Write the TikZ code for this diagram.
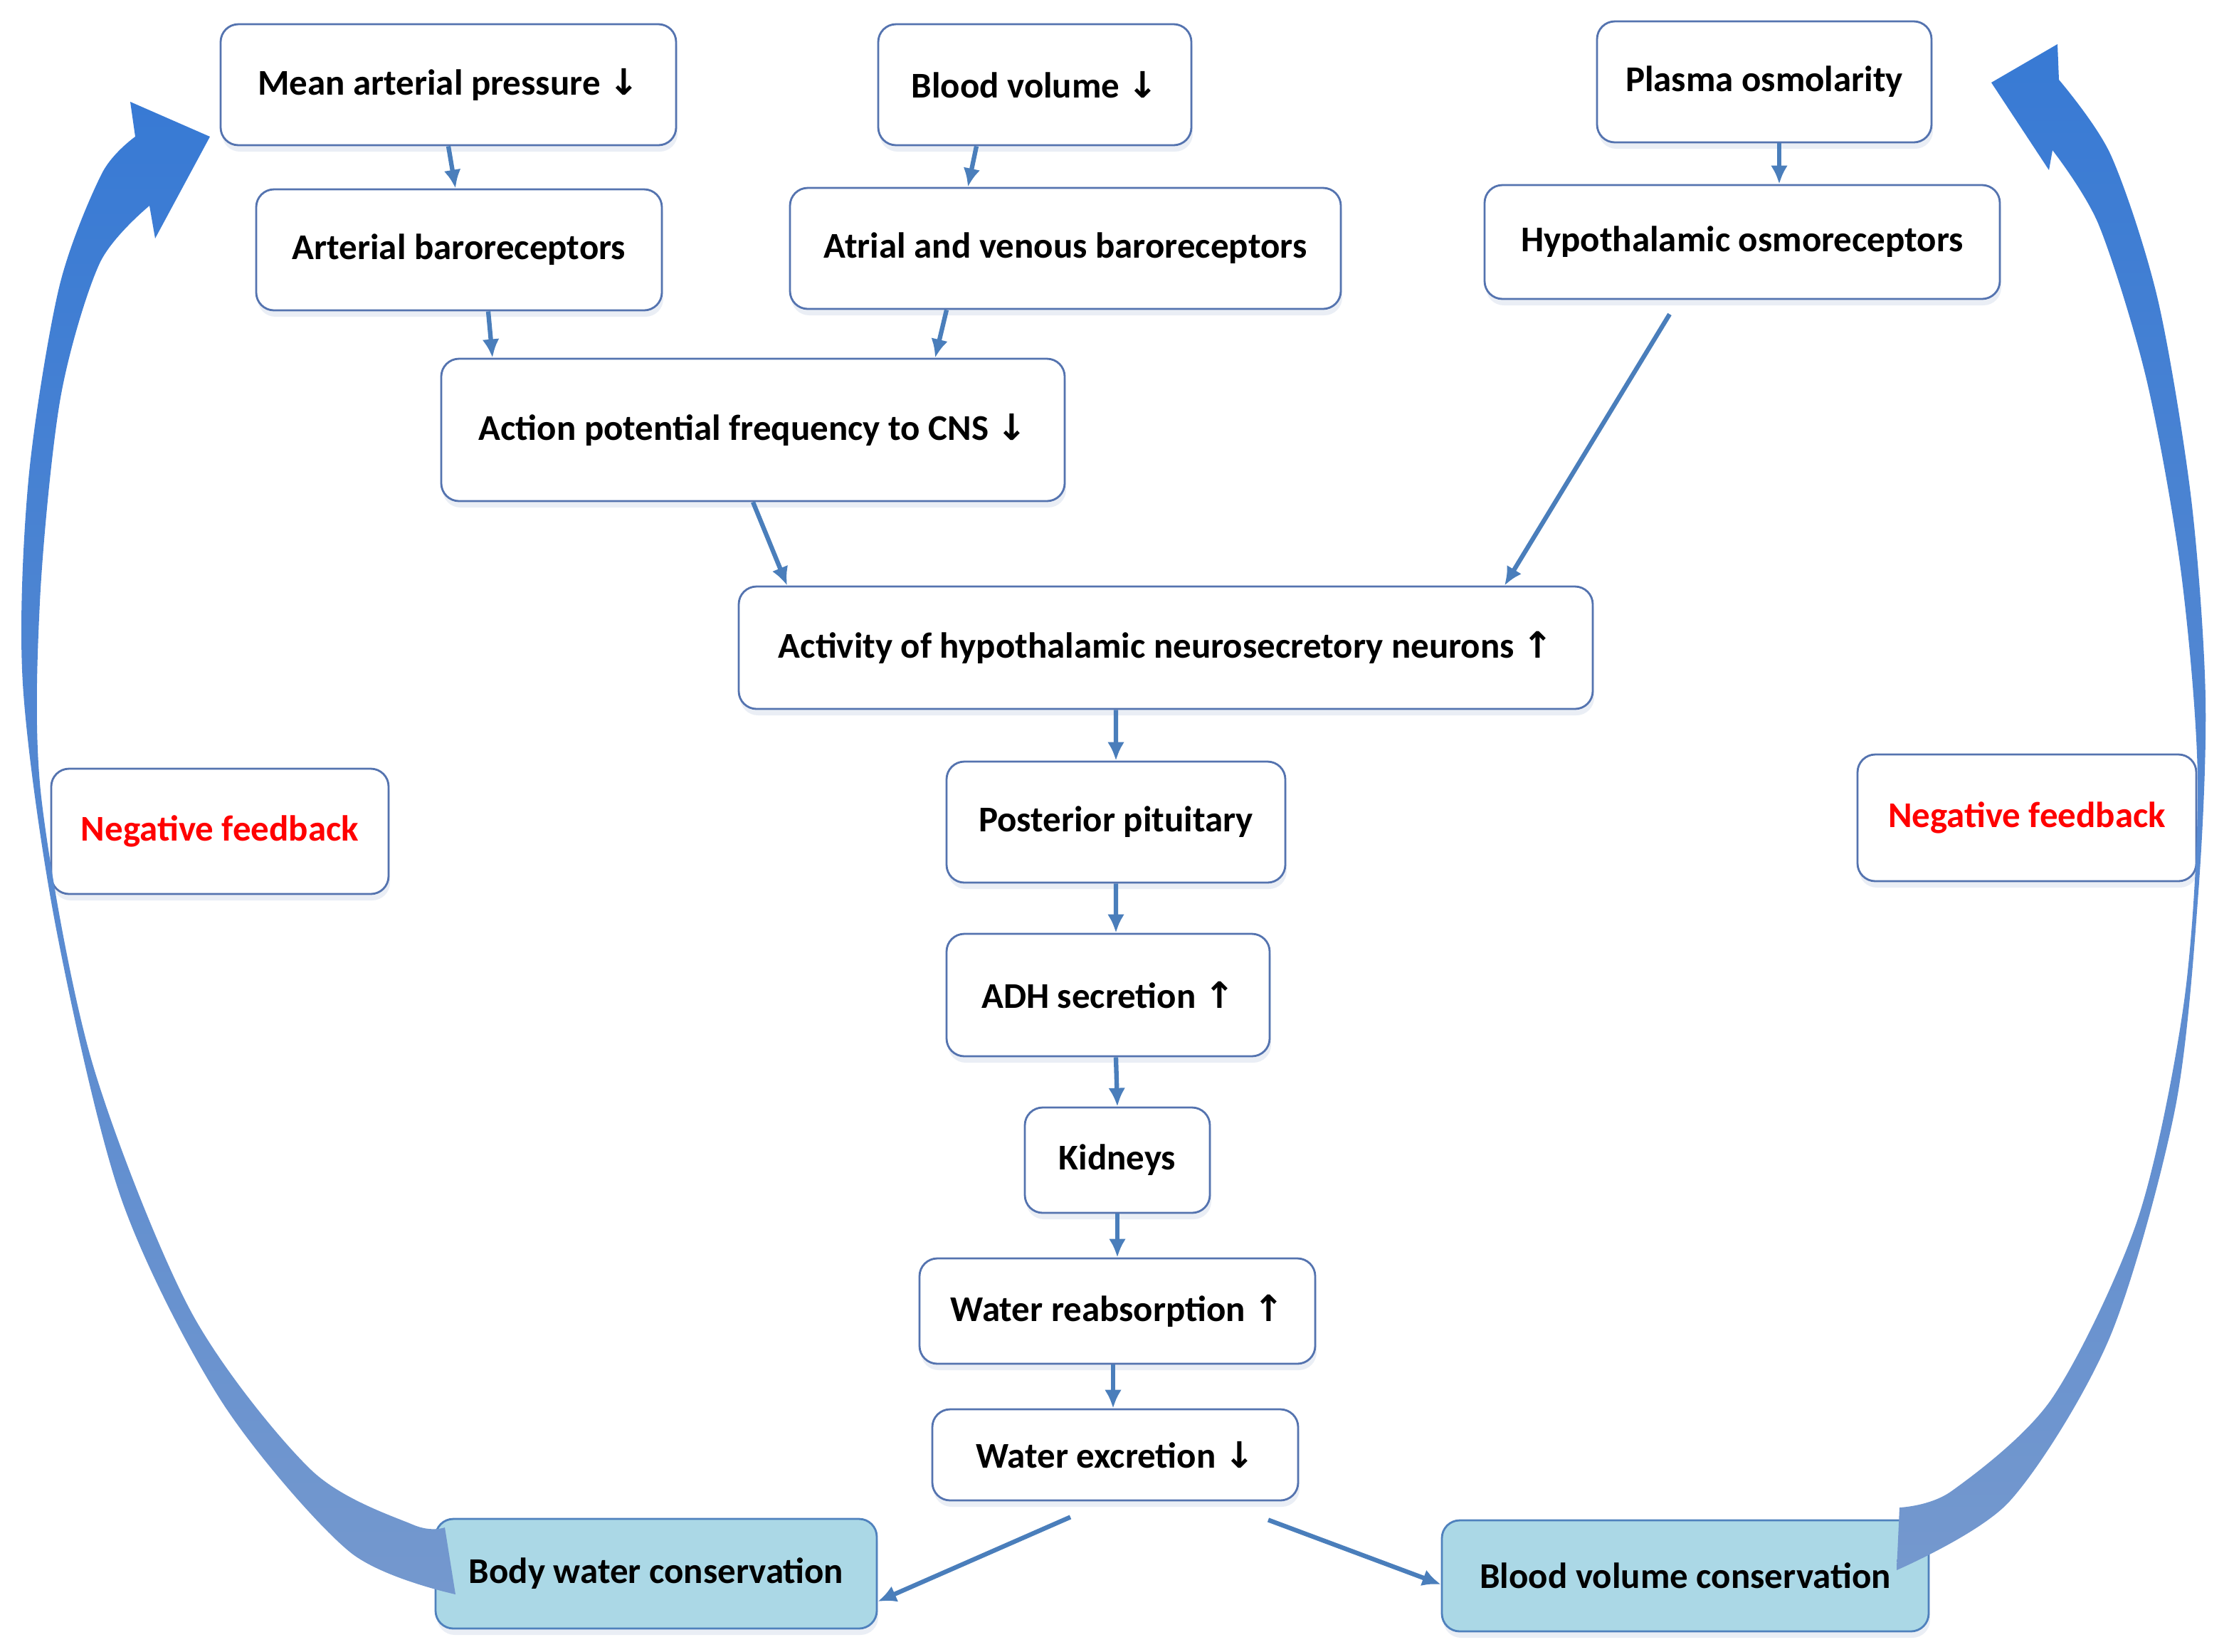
\documentclass[tikz,border=0pt]{standalone}
\usepackage{fontspec}
\setmainfont{Carlito}
\newfontfamily\arrowfont{DejaVu Sans}
\usepackage{tikz}
\usetikzlibrary{arrows,arrows.meta,shapes,shadows}
\definecolor{boxline}{RGB}{84,115,175}
\definecolor{linkblue}{RGB}{74,126,187}
\definecolor{consfill}{RGB}{171,216,230}
\definecolor{consline}{RGB}{79,129,189}
\definecolor{fbtop}{RGB}{56,122,212}
\definecolor{fbbot}{RGB}{116,152,206}
\newcommand{\arrdn}{{\arrowfont\char"2193}}
\newcommand{\arrup}{{\arrowfont\char"2191}}
\tikzstyle{box}=[draw=boxline,line width=0.8pt,rounded corners=0.25cm,fill=white,align=center,inner sep=0pt,font=\bfseries\fontsize{14.5}{16}\selectfont,drop shadow={shadow xshift=0.02cm,shadow yshift=-0.09cm,opacity=0.12,fill=boxline}]
\tikzstyle{consbox}=[box,draw=consline,fill=consfill]
\tikzstyle{fbbox}=[box,text=red]
\tikzstyle{edge} = [draw,line width=1.8pt,linkblue,->,>={Latex[length=2.6mm,width=2.4mm]}]

\begin{document}
\begin{tikzpicture}
      \useasboundingbox (0,0) rectangle (31.32,-23.2);
      % three inputs
      \node[box,minimum width=6.40cm,minimum height=1.70cm] (map) at (6.30,-1.19) {Mean arterial pressure \arrdn};
      \node[box,minimum width=4.40cm,minimum height=1.70cm] (bv) at (14.54,-1.19) {Blood volume \arrdn};
      \node[box,minimum width=4.70cm,minimum height=1.70cm] (posm) at (24.79,-1.15) {Plasma osmolarity};
      \node[box,minimum width=5.70cm,minimum height=1.70cm] (abaro) at (6.45,-3.51) {Arterial baroreceptors};
      \node[box,minimum width=7.74cm,minimum height=1.70cm] (avbaro) at (14.97,-3.49) {Atrial and venous baroreceptors};
      \node[box,minimum width=7.24cm,minimum height=1.60cm] (hosmo) at (24.48,-3.40) {Hypothalamic osmoreceptors};
      \node[box,minimum width=8.76cm,minimum height=2.00cm] (apf) at (10.58,-6.04) {Action potential frequency to CNS \arrdn};
      % main chain
      \node[box,minimum width=12.00cm,minimum height=1.72cm] (act) at (16.38,-9.10) {Activity of hypothalamic neurosecretory neurons \arrup};
      \node[box,minimum width=4.76cm,minimum height=1.70cm] (pp) at (15.68,-11.55) {Posterior pituitary};
      \node[box,minimum width=4.54cm,minimum height=1.72cm] (adh) at (15.57,-13.98) {ADH secretion \arrup};
      \node[box,minimum width=2.60cm,minimum height=1.48cm] (kid) at (15.70,-16.30) {Kidneys};
      \node[box,minimum width=5.56cm,minimum height=1.48cm] (wr) at (15.70,-18.42) {Water reabsorption \arrup};
      \node[box,minimum width=5.14cm,minimum height=1.28cm] (we) at (15.67,-20.44) {Water excretion \arrdn};
      \node[consbox,minimum width=6.20cm,minimum height=1.54cm] (bwc) at (9.22,-22.11) {Body water conservation};
      \node[consbox,minimum width=6.84cm,minimum height=1.56cm] (bvc) at (23.68,-22.14) {Blood volume conservation};
      \node[fbbox,minimum width=4.74cm,minimum height=1.76cm] (nfl) at (3.09,-11.68) {Negative feedback};
      \node[fbbox,minimum width=4.76cm,minimum height=1.78cm] (nfr) at (28.48,-11.49) {Negative feedback};

      \draw[edge] (map.south) to ([xshift=-0.05cm]abaro.north);
      \draw[edge] ([xshift=-0.82cm]bv.south) to ([xshift=-1.37cm]avbaro.north);
      \draw[edge] ([xshift=0.21cm]posm.south) to ([xshift=0.52cm]hosmo.north);
      \draw[edge] ([xshift=0.41cm]abaro.south) to ([xshift=-3.66cm]apf.north);
      \draw[edge] ([xshift=-1.67cm]avbaro.south) to ([xshift=2.56cm]apf.north);
      \draw[edge] (apf.south) to ([xshift=-5.32cm]act.north);
      \draw[edge] ([xshift=-1.02cm,yshift=-0.20cm]hosmo.south) to ([xshift=4.76cm]act.north);
      \draw[edge] ([xshift=-0.70cm]act.south) to (pp.north);
      \draw[edge] (pp.south) to ([xshift=0.11cm]adh.north);
      \draw[edge] ([xshift=0.11cm]adh.south) to (kid.north);
      \draw[edge] (kid.south) to (wr.north);
      \draw[edge] ([xshift=-0.06cm]wr.south) to ([xshift=-0.03cm]we.north);
      \draw[edge] ([xshift=-0.63cm,yshift=-0.22cm]we.south) to ([yshift=-0.39cm]bwc.east);
      \draw[edge] ([xshift=2.15cm,yshift=-0.26cm]we.south) to ([yshift=-0.12cm]bvc.west);

      % feedback arrows
      \shade[top color=fbtop,bottom color=fbbot] plot[smooth] coordinates {(6.40,-22.40) (4.91,-21.80) (3.12,-19.70) (1.70,-16.83) (0.78,-13.00) (0.32,-9.60) (0.40,-6.74) (0.83,-4.04) (1.43,-2.44) (1.90,-1.92)}
        -- (1.83,-1.43) -- (2.95,-1.92) -- (2.18,-3.35)
        -- plot[smooth] coordinates {(2.10,-2.89) (1.40,-3.70) (0.85,-5.59) (0.56,-8.46) (0.58,-11.20) (1.29,-14.91) (2.68,-18.42) (4.37,-20.65) (5.80,-21.42) (6.25,-21.46)} -- cycle;
      \shade[top color=fbtop,bottom color=fbbot] plot[smooth] coordinates {(26.65,-22.06) (28.23,-21.10) (29.64,-18.80) (30.56,-15.59) (30.89,-12.53) (30.99,-9.82) (30.79,-7.02) (30.32,-4.21) (29.66,-2.18) (28.93,-1.12)}
        -- (28.91,-0.62) -- (27.98,-1.16) -- (28.79,-2.39)
        -- plot[smooth] coordinates {(28.84,-2.11) (29.49,-3.16) (30.16,-5.33) (30.65,-8.07) (30.88,-11.00) (30.69,-14.06) (30.04,-17.12) (28.83,-19.65) (27.42,-20.95) (26.69,-21.18)} -- cycle;
\end{tikzpicture}
\end{document}
